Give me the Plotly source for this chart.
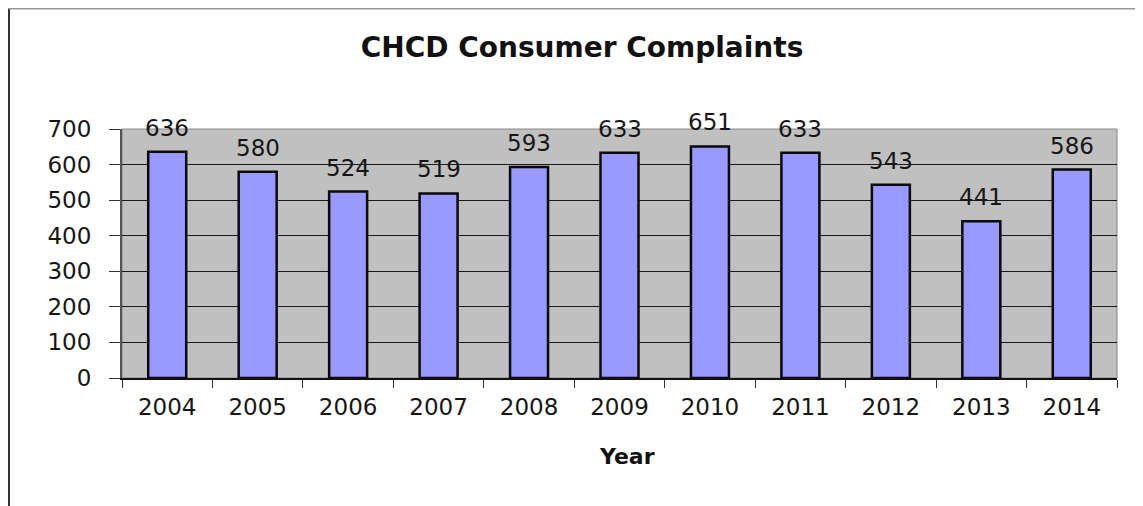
import plotly.graph_objects as go

years = ['2004', '2005', '2006', '2007', '2008', '2009', '2010', '2011', '2012', '2013', '2014']
complaints = [636, 580, 524, 519, 593, 633, 651, 633, 543, 441, 586]
y_ticks = [0, 100, 200, 300, 400, 500, 600, 700]

# page has an 8px body margin, so the figure is a bit smaller than the window
W, H = 1135, 498
L, R, T, B = 114, 26, 121, 128
pw = W - L - R
ph = H - T - B

FONT = 'DejaVu Sans, Verdana, Arial'

fig = go.Figure(go.Bar(
    x=years,
    y=complaints,
    marker=dict(color='#9999FF', line=dict(color='#0a0a0a', width=2.5)),
    hoverinfo='x+y',
))

# value labels above the bars (x given as category index, numeric-looking
# strings get read as numbers by annotations)
for i, v in enumerate(complaints):
    fig.add_annotation(x=i, y=v, text=str(v), showarrow=False, yanchor='bottom',
                       yshift=9, font=dict(family=FONT, size=23, color='#161616'))

fig.update_layout(
    width=W, height=H,
    margin=dict(l=L, r=R, t=T, b=B),
    paper_bgcolor='white',
    plot_bgcolor='#C0C0C0',
    bargap=0.58,
    showlegend=False,
    title=dict(text='<b>CHCD Consumer Complaints</b>', x=574 / W, xanchor='center',
               y=1 - 39 / H, yanchor='middle',
               font=dict(family=FONT, size=28, color='#111111')),
    font=dict(family=FONT, color='#161616'),
)

fig.update_yaxes(
    range=[0, 700], tickvals=y_ticks, showgrid=True, gridcolor='#1a1a1a', gridwidth=1,
    ticks='outside', ticklen=11, tickcolor='#333333', tickfont=dict(size=23),
    ticklabelstandoff=13,
    showline=True, linecolor='#555555', linewidth=2, zeroline=False,
)
fig.update_xaxes(
    type='category', tickangle=0, range=[-0.5, len(years) - 0.5],
    ticks='outside', tickson='boundaries', ticklen=8, tickcolor='#333333',
    tickfont=dict(size=23), ticklabelstandoff=7,
    showline=True, linecolor='#111111', linewidth=2,
)

# axis title placed under the tick labels
fig.add_annotation(xref='paper', yref='paper', x=0.5075, y=-78 / ph, text='<b>Year</b>',
                   showarrow=False, yanchor='middle',
                   font=dict(family=FONT, size=22, color='#111111'))

# plot-area border (top/right) in gray
fig.add_shape(type='rect', xref='paper', yref='paper', x0=0, x1=1, y0=0, y1=1,
              line=dict(color='#888888', width=1), layer='below')

# outer frame of the figure (left and top edges visible)
fx = (1 - L) / pw
fy = 1 + (T - 0.5) / ph
fig.add_shape(type='line', xref='paper', yref='paper', x0=fx, x1=fx, y0=-B / ph, y1=fy,
              line=dict(color='#333333', width=2))
fig.add_shape(type='line', xref='paper', yref='paper', x0=fx, x1=(W - L) / pw, y0=fy, y1=fy,
              line=dict(color='#999999', width=2))

fig.write_html('out.html')
